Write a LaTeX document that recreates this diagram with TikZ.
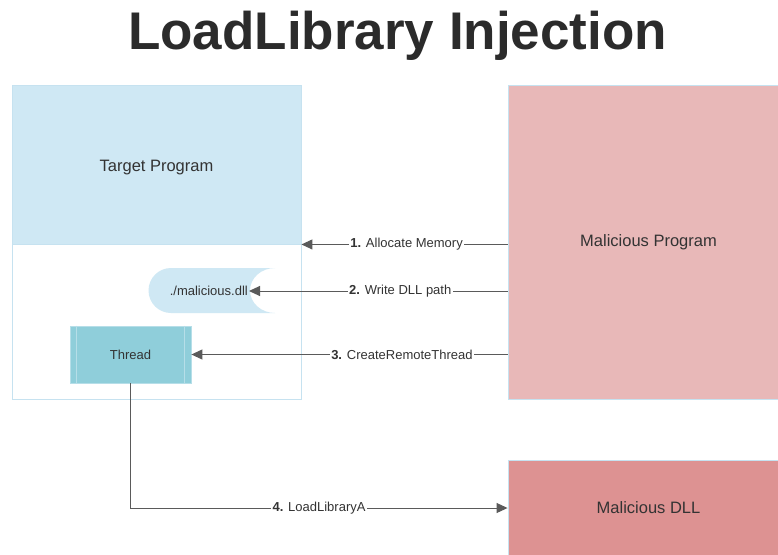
\documentclass[tikz,border=0pt]{standalone}
\usepackage{fontspec}
\setmainfont{Liberation Sans}
\usetikzlibrary{arrows.meta}

\definecolor{tpblue}{HTML}{CFE8F4}
\definecolor{edgeblue}{HTML}{C6E2F0}
\definecolor{threadfill}{HTML}{8FCEDA}
\definecolor{threadedge}{HTML}{B6DEE8}
\definecolor{mpink}{HTML}{E8B8B8}
\definecolor{dllpink}{HTML}{DD9292}
\definecolor{arrowgray}{HTML}{5A5A5A}
\definecolor{txtgray}{HTML}{333333}
\definecolor{titlegray}{HTML}{2B2B2B}

\begin{document}
\begin{tikzpicture}[x=1pt,y=-1pt,
  every node/.style={text=txtgray},
  region/.style={draw=edgeblue, line width=0.9pt, inner sep=0pt,
    font=\fontsize{16.5}{19}\selectfont},
  threadbox/.style={draw=threadedge, line width=0.8pt, fill=threadfill,
    minimum width=121pt, minimum height=57pt, inner sep=0pt,
    font=\fontsize{13}{15}\selectfont},
  lbl/.style={fill=white, inner sep=1.2pt, font=\fontsize{13}{15}\selectfont},
  arr/.style={draw=arrowgray, line width=1pt,
    -{Triangle[length=11pt,width=10pt]}}]

% page frame
\clip (0,0) rectangle (778,554);
\fill[white] (0,0) rectangle (778,554);

% title
\node[anchor=base, text=titlegray, font=\fontsize{53}{60}\bfseries\selectfont]
  (title) at (397.5,49) {LoadLibrary Injection};

% target process: outer frame and header
\node[region, minimum width=289pt, minimum height=314pt] (tp) at (156.5,242) {};
\node[region, fill=tpblue, minimum width=289pt, minimum height=159pt,
  text depth=0pt] (tptop) at (156.5,164.5) {\raisebox{-2pt}{Target Program}};

% path string written into the target (stored-data shape)
\fill[tpblue] (171,268) arc[start angle=90, end angle=270, radius=22.5pt]
  -- (275,313) arc[start angle=270, end angle=90, x radius=25pt, y radius=22.5pt]
  -- cycle;
\node[anchor=east, inner sep=1pt, font=\fontsize{13}{15}\selectfont]
  (dll) at (249,291) {./malicious.dll};

% remote thread (process shape)
\node[threadbox] (th) at (130.5,354.5) {Thread};
\draw[threadedge, line width=0.8pt] ([xshift=7pt]th.north west) -- ([xshift=7pt]th.south west);
\draw[threadedge, line width=0.8pt] ([xshift=-7pt]th.north east) -- ([xshift=-7pt]th.south east);

% attacker side
\node[region, fill=mpink, minimum width=281pt, minimum height=314pt]
  (mp) at (648.5,242) {Malicious Program};
\node[region, fill=dllpink, minimum width=281pt, minimum height=96pt]
  (mdll) at (648.5,508) {Malicious DLL};

% injection steps
\draw[arr] (mp.west |- tptop.south) --
  node[lbl, pos=0.49] {\textbf{1.} Allocate Memory} (tp.east |- tptop.south);
\draw[arr] (mp.west |- dll.east) --
  node[lbl, pos=0.415] {\textbf{2.} Write DLL path} (dll.east);
\draw[arr] (mp.west |- th.east) --
  node[lbl, pos=0.334] {\textbf{3.} CreateRemoteThread} (th.east);
\draw[arr] (th.south) |-
  node[lbl, pos=0.75] {\textbf{4.} LoadLibraryA} (mdll.west);
\end{tikzpicture}
\end{document}
